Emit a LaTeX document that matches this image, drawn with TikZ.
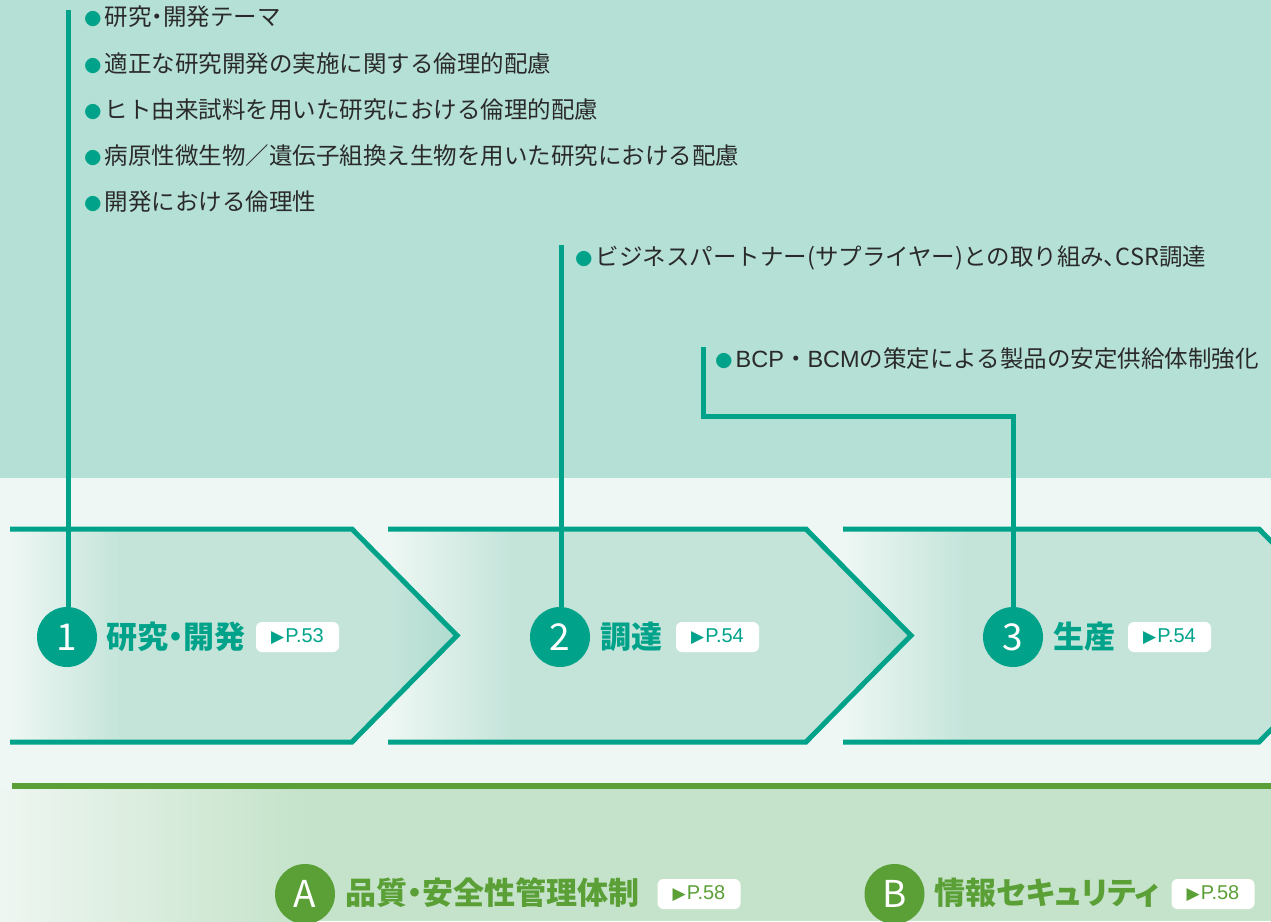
\documentclass[tikz,border=0pt]{standalone}
\usepackage{fontspec}
\setmainfont{Noto Sans CJK JP}
\newfontfamily\jp{Noto Sans CJK JP}
\newfontfamily\jpp{Noto Sans CJK JP}[RawFeature=+palt]
\newfontfamily\symf{DejaVu Sans}
\newfontfamily\arl{Liberation Sans}
\definecolor{teal1}{HTML}{00A38A}
\definecolor{topbg}{HTML}{B5E0D6}
\definecolor{midbg}{HTML}{EEF7F4}
\definecolor{chfill}{HTML}{C4E4DA}
\definecolor{chdark}{HTML}{B0DBD0}
\definecolor{grn}{HTML}{5BA037}
\definecolor{botbg}{HTML}{C5E3CA}
\definecolor{botlight}{HTML}{EEF6F1}
\definecolor{txt}{HTML}{2A2A2A}
\newcommand{\bulmark}{\textcolor{teal1}{\makebox[23.5pt]{\fontsize{17}{17}\selectfont ●}}}
\tikzset{
  chevline/.style={draw=teal1,line width=5pt,line join=miter},
  conn/.style={draw=teal1,line width=5pt,line join=miter},
  numcirc/.style={circle,fill=#1,minimum size=60pt,inner sep=0pt,text=white,
    font=\jp\fontsize{37}{37}\selectfont},
  lbl/.style={anchor=west,inner sep=0pt,text=#1,font=\jpp\bfseries\fontsize{31}{31}\selectfont},
  badge/.style={fill=white,rounded corners=6pt,minimum width=83pt,minimum height=30pt,
    inner sep=0pt,text=#1},
  bul/.style={anchor=west,inner sep=0pt,text=txt,font=\jp\fontsize{23.5}{23.5}\selectfont,
    text height=0.84em,text depth=0.08em},
}
\newcommand{\pg}[1]{{\symf\fontsize{17}{17}\selectfont ▶}\hspace{1pt}{\arl\fontsize{20}{20}\selectfont #1}}
\begin{document}
\begin{tikzpicture}[x=1pt,y=-1pt]
\useasboundingbox (0,0) rectangle (1271,921);
\clip (0,0) rectangle (1271,921);
% backgrounds
\fill[topbg] (0,0) rectangle (1271,478);
\fill[midbg] (0,478) rectangle (1271,921);
\fill[botbg] (0,789) rectangle (1271,921);
\shade[left color=botlight,right color=botbg] (0,789) rectangle (300,921);
% chevron fills (right to left, so each tip lies over the next one)
\begin{scope}
\clip (843,529) -- (1259,529) -- (1364,635.5) -- (1259,742) -- (843,742) -- cycle;
\shade[left color=midbg,right color=chfill] (843,529) rectangle (965,742);
\fill[chfill] (965,529) rectangle (1364,742);
\end{scope}
\begin{scope}
\clip (388,529) -- (806,529) -- (911,635.5) -- (806,742) -- (388,742) -- cycle;
\shade[left color=midbg,right color=chfill] (388,529) rectangle (510,742);
\fill[chfill] (510,529) rectangle (844,742);
\shade[left color=chfill,right color=chdark] (844,529) rectangle (911,742);
\end{scope}
\begin{scope}
\clip (10,529) -- (352,529) -- (457,635.5) -- (352,742) -- (10,742) -- cycle;
\shade[left color=midbg,right color=chfill] (10,529) rectangle (120,742);
\fill[chfill] (120,529) rectangle (390,742);
\shade[left color=chfill,right color=chdark] (390,529) rectangle (457,742);
\end{scope}
% chevron outlines
\draw[chevline] (10,529) -- (352,529) -- (457,635.5) -- (352,742) -- (10,742);
\draw[chevline] (388,529) -- (806,529) -- (911,635.5) -- (806,742) -- (388,742);
\draw[chevline] (843,529) -- (1259,529) -- (1364,635.5) -- (1259,742) -- (843,742);
% bottom rule
\draw[grn,line width=5.5pt] (12,786) -- (1271,786);
% bullets
\node[bul] (r1) at (81,22) {\bulmark 研究{\jpp ・}開発テーマ};
\node[bul] (r2) at (81,69) {\bulmark 適正な研究開発の実施に関する倫理的配慮};
\node[bul] (r3) at (81,115) {\bulmark ヒト由来試料を用いた研究における倫理的配慮};
\node[bul] (r4) at (81,161) {\bulmark 病原性微生物／遺伝子組換え生物を用いた研究における配慮};
\node[bul] (r5) at (81,207) {\bulmark 開発における倫理性};
\node[bul] (s1) at (572,262) {\bulmark ビジネスパートナー(サプライヤー)との取り組み{\jpp 、}CSR調達};
\node[bul] (p1) at (712,364) {\bulmark {\arl BCP}・{\arl BCM}の策定による製品の安定供給体制強化};
% circles and labels
\node[numcirc=teal1] (c1) at (67,637) {1};
\node[lbl=teal1] (l1) at (106,637) {研究・開発};
\node[badge=teal1] (b1) at (297.5,637) {\pg{P.53}};
\node[numcirc=teal1] (c2) at (560,637) {2};
\node[lbl=teal1] (l2) at (600,637) {調達};
\node[badge=teal1] (b2) at (717.5,637) {\pg{P.54}};
\node[numcirc=teal1] (c3) at (1013,637) {3};
\node[lbl=teal1] (l3) at (1053,637) {生産};
\node[badge=teal1] (b3) at (1169.5,637) {\pg{P.54}};
% connectors
\coordinate (t1) at (68,10);
\coordinate (t2) at (561,245);
\coordinate (t3) at (703,347);
\coordinate (k3) at (703,416);
\draw[conn] (t1) -- (t1 |- c1.north);
\draw[conn] (t2) -- (t2 |- c2.north);
\draw[conn] (t3) -- (k3) -| (c3.north);
% bottom items
\node[numcirc=grn] (ca) at (305,894) {A};
\node[lbl=grn] (la) at (345,893) {品質・安全性管理体制};
\node[badge=grn] (ba) at (699,894) {\pg{P.58}};
\node[numcirc=grn] (cb) at (894.5,894) {B};
\node[lbl=grn] (lb) at (934,893) {情報セキュリティ};
\node[badge=grn] (bb) at (1213,894) {\pg{P.58}};
\end{tikzpicture}
\end{document}
